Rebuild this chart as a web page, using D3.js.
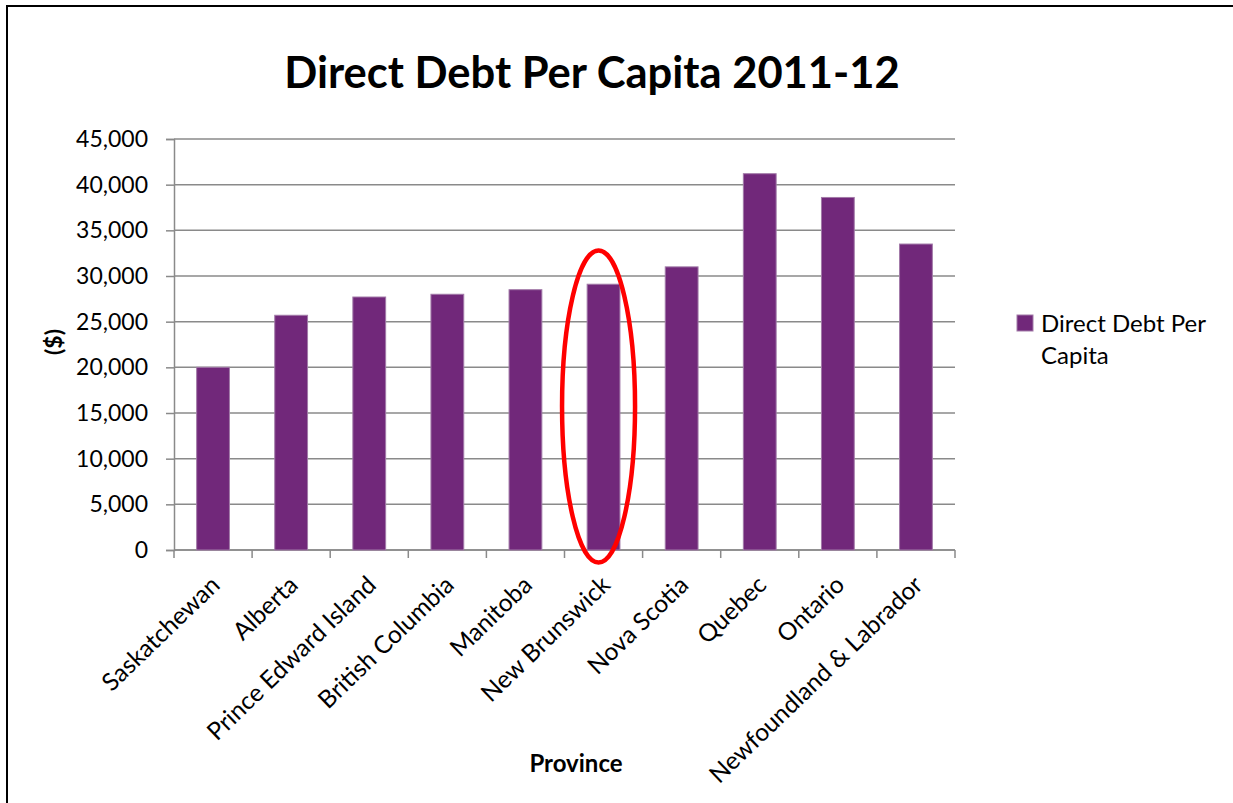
<!DOCTYPE html>
<html>
<head>
<meta charset="utf-8">
<script src="https://cdn.jsdelivr.net/npm/d3@7"></script>
<style>
  body { margin: 0; background: #fff; }
  svg text { font-family: Lato, "Open Sans", sans-serif; fill: #000; }
</style>
</head>
<body>
<div id="chart"></div>
<script>
// data
var provinces = ["Saskatchewan", "Alberta", "Prince Edward Island", "British Columbia", "Manitoba",
  "New Brunswick", "Nova Scotia", "Quebec", "Ontario", "Newfoundland & Labrador"];
var debtPerCapita = [20000, 25700, 27700, 28000, 28500, 29100, 31000, 41200, 38600, 33500];
var yTicks = [0, 5000, 10000, 15000, 20000, 25000, 30000, 35000, 40000, 45000];
var highlighted = "New Brunswick";

var width = 1233, height = 803;
var margin = { top: 139, right: 278, bottom: 253, left: 174 };

var svg = d3.select("#chart").append("svg")
  .attr("width", width)
  .attr("height", height);

svg.append("rect").attr("width", width).attr("height", height).attr("fill", "#fff");

// frame, only top and left edges are in view
svg.append("path")
  .attr("d", "M7," + height + "V6H" + width)
  .attr("fill", "none")
  .attr("stroke", "#000")
  .attr("stroke-width", 2);

var x = d3.scaleBand()
  .domain(provinces)
  .range([margin.left, width - margin.right])
  .paddingInner(0.58)
  .paddingOuter(0.29);

var y = d3.scaleLinear()
  .domain([0, 45000])
  .range([height - margin.bottom, margin.top]);

var gridCol = "#8a8a8a";

// gridlines
svg.append("g")
  .selectAll("line")
  .data(yTicks)
  .enter()
  .append("line")
  .attr("x1", margin.left)
  .attr("x2", width - margin.right)
  .attr("y1", d => y(d))
  .attr("y2", d => y(d))
  .attr("stroke", gridCol)
  .attr("stroke-width", 1.5);

// y axis
var yAxis = d3.axisLeft(y)
  .tickValues(yTicks)
  .tickSize(8)
  .tickPadding(18)
  .tickFormat(d3.format(","));

var gy = svg.append("g")
  .attr("transform", `translate(${margin.left},0)`)
  .call(yAxis);
gy.select(".domain").attr("stroke", gridCol).attr("stroke-width", 1.5);
gy.selectAll(".tick line").attr("stroke", gridCol).attr("stroke-width", 1.5);
gy.selectAll(".tick text").style("font-size", "23px").attr("fill", "#000");

// x axis line + ticks on band edges
var step = x.step();
var edges = d3.range(provinces.length + 1).map(i => margin.left + i * step);
svg.append("line")
  .attr("x1", margin.left).attr("x2", width - margin.right)
  .attr("y1", y(0)).attr("y2", y(0))
  .attr("stroke", gridCol).attr("stroke-width", 1.5);
svg.append("g")
  .selectAll("line")
  .data(edges)
  .enter()
  .append("line")
  .attr("x1", d => d).attr("x2", d => d)
  .attr("y1", y(0)).attr("y2", y(0) + 8)
  .attr("stroke", gridCol).attr("stroke-width", 1.5);

// bars
svg.selectAll("rect.bar")
  .data(provinces)
  .enter()
  .append("rect")
  .attr("class", "bar")
  .attr("x", d => x(d))
  .attr("width", x.bandwidth())
  .attr("y", (d, i) => y(debtPerCapita[i]))
  .attr("height", (d, i) => y(0) - y(debtPerCapita[i]))
  .style("fill", "#71287a")
  .style("stroke", "#a27aa8")
  .style("stroke-width", 1);

// category labels, rotated
svg.selectAll("text.label")
  .data(provinces)
  .enter()
  .append("text")
  .attr("class", "label")
  .attr("transform", d => `translate(${x(d) + x.bandwidth() / 2 - 4},574) rotate(-44)`)
  .attr("dy", "0.72em")
  .style("text-anchor", "end")
  .style("font-size", "24.5px")
  .text(d => d);

// highlight ring round one province
var hx = x(highlighted) + x.bandwidth() / 2 - 5;
svg.append("ellipse")
  .attr("cx", hx)
  .attr("cy", 406.5)
  .attr("rx", 36.5)
  .attr("ry", 156)
  .attr("fill", "none")
  .attr("stroke", "#ff0000")
  .attr("stroke-width", 4.5);

// titles
svg.append("text")
  .attr("x", 592)
  .attr("y", 88)
  .style("text-anchor", "middle")
  .style("font-size", "43.5px")
  .style("font-weight", "bold")
  .text("Direct Debt Per Capita 2011-12");

svg.append("text")
  .attr("x", 576)
  .attr("y", 772)
  .style("text-anchor", "middle")
  .style("font-size", "24px")
  .style("font-weight", "bold")
  .text("Province");

svg.append("text")
  .attr("transform", "translate(62,342) rotate(-90)")
  .style("text-anchor", "middle")
  .style("font-size", "23px")
  .style("font-weight", "bold")
  .text("($)");

// legend
var lg = svg.append("g").attr("transform", "translate(1017,315)");
lg.append("rect")
  .attr("width", 16).attr("height", 16)
  .style("fill", "#71287a")
  .style("stroke", "#a27aa8")
  .style("stroke-width", 1);
lg.append("text")
  .attr("x", 24).attr("y", 17)
  .style("font-size", "24px")
  .text("Direct Debt Per");
lg.append("text")
  .attr("x", 24).attr("y", 49)
  .style("font-size", "24px")
  .text("Capita");
</script>
</body>
</html>
